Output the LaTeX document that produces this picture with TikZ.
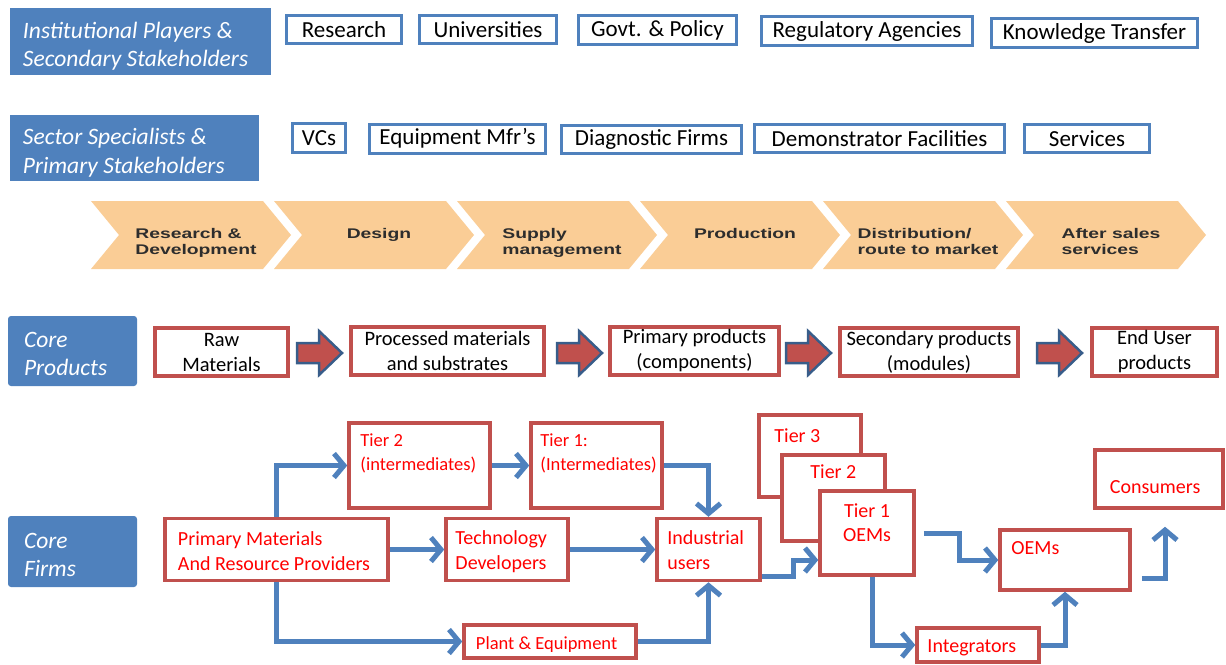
\documentclass[tikz,border=0pt]{standalone}
\usepackage{fontspec}
\setmainfont{Carlito}
\newfontfamily\chevfont[FakeStretch=1.38]{Liberation Sans}
\usetikzlibrary{arrows.meta}
\definecolor{hdrblue}{RGB}{79,129,189}
\definecolor{boxred}{RGB}{192,80,77}
\definecolor{peach}{RGB}{250,205,150}
\definecolor{arrowblue}{RGB}{56,93,138}
\definecolor{chevgray}{RGB}{45,45,45}

\begin{document}
\begin{tikzpicture}[x=1pt,y=-1pt]
\tikzstyle{header} = [fill=hdrblue, inner sep=0pt]
\tikzstyle{headtext} = [text=white, anchor=north west, inner sep=0pt, align=left, font=\fontsize{23.5}{28.5}\selectfont\itshape]
\tikzstyle{stake} = [draw=hdrblue, line width=3pt, fill=white, inner sep=0pt, font=\fontsize{23}{27}\selectfont]
\tikzstyle{prod} = [draw=boxred, line width=4pt, fill=white, inner sep=0pt, align=center, font=\fontsize{20.5}{25}\selectfont]
\tikzstyle{firm} = [draw=boxred, line width=3.5pt, fill=white, inner sep=0pt]
\tikzstyle{firmtext} = [text=red, anchor=north west, inner sep=0pt, align=left, font=\fontsize{20}{24.5}\selectfont]
\tikzstyle{smalltext} = [font=\fontsize{18.5}{24}\selectfont]
\tikzstyle{chevron} = [fill=peach]
\tikzstyle{chevtext} = [text=chevgray, anchor=north, inner sep=0pt, align=left, font={\chevfont\bfseries\fontsize{14}{16}\selectfont}]
\tikzstyle{flow} = [draw=hdrblue, line width=5pt, -{Straight Barb[length=10pt,width=24pt]}]
\tikzstyle{bigarrow} = [fill=boxred, draw=arrowblue, line width=2.5pt]

\useasboundingbox (0,0) rectangle (1226,664);

% stakeholders
\node[header, minimum width=261pt, minimum height=67pt, label={[headtext, xshift=13, yshift=-14]north west:{Institutional Players \&\\Secondary Stakeholders}}] (inst) at (140.5,41.5) {};
\node[header, minimum width=249pt, minimum height=66pt, label={[headtext, xshift=13, yshift=-13.5]north west:{Sector Specialists \&\\Primary Stakeholders}}] (sector) at (134.5,148) {};

\node[stake, minimum width=115pt, minimum height=28pt] (research) at (344,29.5) {Research};
\node[stake, minimum width=137pt, minimum height=28pt] (univ) at (488,29.5) {Universities};
\node[stake, minimum width=158pt, minimum height=29pt] (govt) at (657.5,30) {Govt. \& Policy};
\node[stake, minimum width=211pt, minimum height=29pt] (regul) at (867,31) {Regulatory Agencies};
\node[stake, minimum width=206pt, minimum height=29pt] (knowledge) at (1094.5,33) {Knowledge Transfer};

\node[stake, minimum width=53pt, minimum height=29pt] (vcs) at (319,138) {VCs};
\node[stake, minimum width=176pt, minimum height=29pt] (equip) at (457.5,138.5) {Equipment Mfr’s};
\node[stake, minimum width=180pt, minimum height=28pt] (diag) at (651.5,139.5) {Diagnostic Firms};
\node[stake, minimum width=250pt, minimum height=28pt] (demo) at (879.5,138.5) {Demonstrator Facilities};
\node[stake, minimum width=125pt, minimum height=28pt] (services) at (1087,138.5) {Services};

% value chain
\foreach \name [count=\i from 0] in {{Research \&\\Development}, Design, {Supply\\management}, Production, {Distribution/\\route to market}, {After sales\\services}} {
  \pgfmathsetmacro\xo{91+183*\i}
  \fill[chevron] (\xo,201) -- ++(172,0) -- ++(28,34) -- ++(-28,34) -- ++(-172,0) -- ++(28,-34) -- cycle;
  \node[chevtext] (stage\i) at (\xo+105,228) {\name};
}

% core products
\node[header, rounded corners=3pt, minimum width=129pt, minimum height=70pt, label={[headtext, xshift=16, yshift=-16]north west:{Core\\Products}}] (coreprod) at (72.5,351) {};

\node[prod, minimum width=133pt, minimum height=48pt] (raw) at (221.5,352) {Raw\\Materials};
\node[prod, minimum width=193pt, minimum height=48pt] (processed) at (447.5,351) {Processed materials\\and substrates};
\node[prod, minimum width=169pt, minimum height=48pt] (primary) at (694.5,351) {Primary products\\(components)};
\node[prod, minimum width=178pt, minimum height=48pt] (secondary) at (929,352) {Secondary products\\(modules)};
\node[prod, minimum width=125pt, minimum height=48pt] (enduser) at (1154.5,352) {End User\\products};

\foreach \xa in {297,557,786,1037}
  \draw[bigarrow] (\xa,343) -- ++(22,0) -- ++(0,-12) -- ++(23,22) -- ++(-23,22) -- ++(0,-12) -- ++(-22,0) -- cycle;

% core firms
\node[header, rounded corners=3pt, minimum width=129pt, minimum height=71pt, label={[headtext, xshift=16, yshift=-17]north west:{Core\\Firms}}] (corefirm) at (72.5,551.5) {};

\node[firm, minimum width=223pt, minimum height=62pt, label={[firmtext, xshift=14.5, yshift=-15]north west:{Primary Materials\\And Resource Providers}}] (prim) at (276.5,549.5) {};
\node[firm, minimum width=141pt, minimum height=85pt, label={[firmtext, smalltext, xshift=13, yshift=-12]north west:{Tier 2\\(intermediates)}}] (tiertwo) at (419.5,465.5) {};
\node[firm, minimum width=131pt, minimum height=85pt, label={[firmtext, smalltext, xshift=11, yshift=-12]north west:{Tier 1:\\(Intermediates)}}] (tierone) at (596.5,465.5) {};
\node[firm, minimum width=122pt, minimum height=62pt, label={[firmtext, xshift=11, yshift=-14]north west:{Technology\\Developers}}] (techdev) at (507,549.5) {};
\node[firm, minimum width=103pt, minimum height=62pt, label={[firmtext, xshift=12, yshift=-14]north west:{Industrial\\users}}] (industrial) at (708.5,549.5) {};
\node[firm, minimum width=172pt, minimum height=33pt, label={[firmtext, smalltext, xshift=13.5, yshift=-13]north west:{Plant \& Equipment}}] (plant) at (550,641.5) {};

\node[firm, minimum width=102pt, minimum height=82pt, label={[firmtext, xshift=17, yshift=-15]north west:{Tier 3}}] (tierthree) at (810,456) {};
\node[firm, minimum width=103pt, minimum height=86pt, label={[firmtext, xshift=30, yshift=-11]north west:{Tier 2}}] (tiertwob) at (833.5,498) {};
\node[firm, minimum width=94pt, minimum height=84pt, label={[firmtext, anchor=north, align=center, yshift=-14]north:{Tier 1\\OEMs}}] (tieroneoem) at (867,533) {};
\node[firm, minimum width=130pt, minimum height=60pt, label={[firmtext, xshift=13, yshift=-13]north west:{OEMs}}] (oems) at (1065,560) {};
\node[firm, minimum width=128pt, minimum height=58pt, label={[firmtext, xshift=16.5, yshift=-32]north west:{Consumers}}] (consumers) at (1159,479) {};
\node[firm, minimum width=122pt, minimum height=34pt, label={[firmtext, xshift=12, yshift=-13]north west:{Integrators}}] (integrators) at (978,645) {};

\draw[flow] (prim.north) |- (tiertwo.west);
\draw[flow] (tiertwo.east) -- (tierone.west);
\draw[flow] (tierone.east) -| (industrial.north);
\draw[flow] (prim.east) -- (techdev.west);
\draw[flow] (techdev.east) -- (industrial.west);
\draw[flow] (prim.south) |- (plant.west);
\draw[flow] (plant.east) -| (industrial.south);
\draw[flow] ([yshift=-27pt]industrial.east) -- ++(32,0) |- ([yshift=-27pt]tieroneoem.west);
\draw[flow] ([xshift=8pt]tieroneoem.east) -- ++(36,0) |- (oems.west);
\draw[flow] ([xshift=5pt]tieroneoem.south) |- (integrators.west);
\draw[flow] (integrators.east) -| (oems.south);
\draw[flow] ([xshift=10pt,yshift=-18pt]oems.east) -| ([xshift=6pt,yshift=-17pt]consumers.south);
\end{tikzpicture}
\end{document}
